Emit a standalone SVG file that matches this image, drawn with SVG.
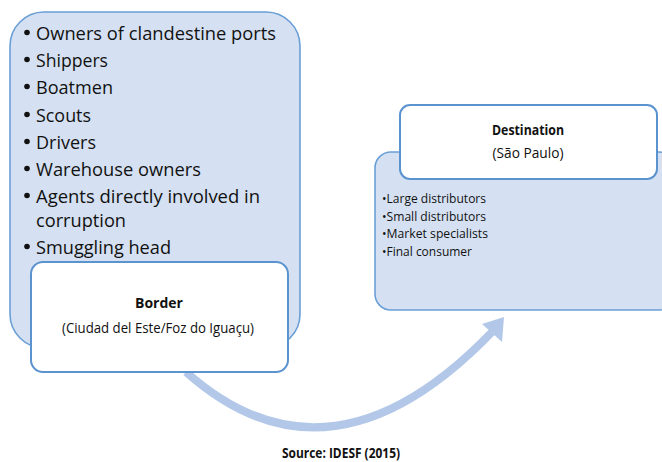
<svg xmlns="http://www.w3.org/2000/svg" width="662" height="462" viewBox="0 0 662 462">
<style>
.blue{fill:#d5e1f2;stroke:#6a9fd6;stroke-width:1.6}
.white{fill:#ffffff;stroke:#5b93cf;stroke-width:2}
.t{font-family:"Open Sans","Liberation Sans",sans-serif;fill:#111}
.big{font-size:18.5px}
.mid{font-size:14px}
.sm{font-size:12px}
.b{font-weight:bold}
.arrow{fill:none;stroke:#b3c8e8;stroke-width:8}
</style>
<rect width="662" height="462" fill="#ffffff"/>
<g id="actors">
<rect class="blue" x="10" y="12" width="290" height="336" rx="34"/>
<g class="t big">
<circle cx="27" cy="32.5" r="2.8" fill="#111"/><text x="36" y="40" textLength="240" lengthAdjust="spacingAndGlyphs">Owners of clandestine ports</text>
<circle cx="27" cy="59.5" r="2.8" fill="#111"/><text x="36" y="67" textLength="72" lengthAdjust="spacingAndGlyphs">Shippers</text>
<circle cx="27" cy="86.5" r="2.8" fill="#111"/><text x="36" y="94" textLength="77" lengthAdjust="spacingAndGlyphs">Boatmen</text>
<circle cx="27" cy="114.5" r="2.8" fill="#111"/><text x="36" y="122" textLength="55" lengthAdjust="spacingAndGlyphs">Scouts</text>
<circle cx="27" cy="141.5" r="2.8" fill="#111"/><text x="36" y="149" textLength="60" lengthAdjust="spacingAndGlyphs">Drivers</text>
<circle cx="27" cy="168.5" r="2.8" fill="#111"/><text x="36" y="176" textLength="165" lengthAdjust="spacingAndGlyphs">Warehouse owners</text>
<circle cx="27" cy="195.5" r="2.8" fill="#111"/><text x="36" y="203" textLength="224" lengthAdjust="spacingAndGlyphs">Agents directly involved in</text>
<text x="36" y="227" textLength="90" lengthAdjust="spacingAndGlyphs">corruption</text>
<circle cx="27" cy="246.5" r="2.8" fill="#111"/><text x="36" y="254" textLength="135" lengthAdjust="spacingAndGlyphs">Smuggling head</text>
</g>
</g>
<g id="connectors">
<path class="arrow" d="M186,372 Q330,500 492,332"/>
<polygon points="504,317 482,324 502,342" fill="#b3c8e8"/>
</g>
<g id="border">
<rect class="white" x="31" y="262" width="257" height="110" rx="12"/>
<text class="t mid b" x="159" y="308" text-anchor="middle">Border</text>
<text class="t mid" x="158" y="333" text-anchor="middle" textLength="192" lengthAdjust="spacingAndGlyphs">(Ciudad del Este/Foz do Iguaçu)</text>
</g>
<g id="destination-list">
<rect class="blue" x="375" y="152" width="300" height="158" rx="16"/>
<g class="t sm">
<text x="382" y="203" textLength="104" lengthAdjust="spacingAndGlyphs">•Large distributors</text>
<text x="382" y="221" textLength="104" lengthAdjust="spacingAndGlyphs">•Small distributors</text>
<text x="382" y="238" textLength="106" lengthAdjust="spacingAndGlyphs">•Market specialists</text>
<text x="382" y="256" textLength="90" lengthAdjust="spacingAndGlyphs">•Final consumer</text>
</g>
</g>
<g id="destination">
<rect class="white" x="400" y="105" width="257" height="74" rx="10"/>
<text class="t mid b" x="528" y="135" text-anchor="middle" textLength="72" lengthAdjust="spacingAndGlyphs">Destination</text>
<text class="t mid" x="528" y="158" text-anchor="middle" textLength="71" lengthAdjust="spacingAndGlyphs">(São  Paulo)</text>
</g>
<text id="source" class="t mid b" x="341" y="458" text-anchor="middle" textLength="118" lengthAdjust="spacingAndGlyphs">Source: IDESF (2015)</text>
</svg>
